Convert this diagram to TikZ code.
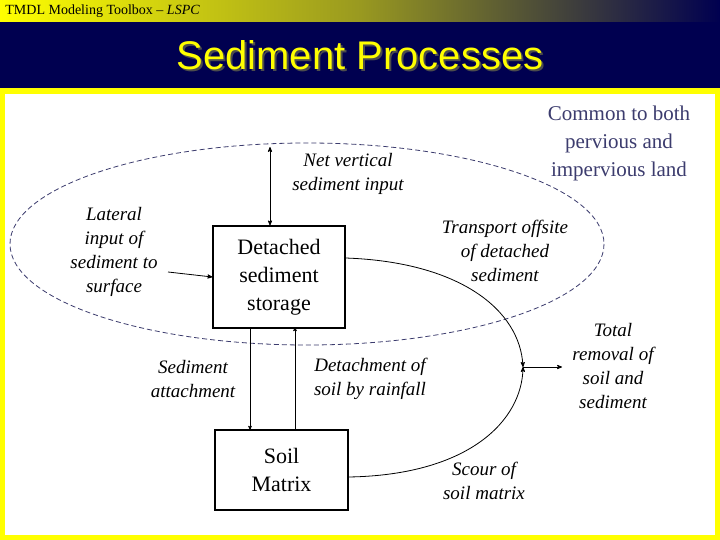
\documentclass[tikz,border=0pt]{standalone}
\usepackage{fontspec}
\setmainfont{Liberation Serif}
\newfontfamily\titlefont{Liberation Sans}
\usetikzlibrary{arrows,positioning,shadings}
\definecolor{navy}{RGB}{0,0,80}
\definecolor{ellcol}{RGB}{60,60,110}
\definecolor{framey}{RGB}{255,255,0}

\begin{document}
\begin{tikzpicture}[x=1pt,y=-1pt,>=stealth',thick,
                    every node/.style={font=\fontsize{19}{24}\selectfont\itshape,align=center,inner sep=1pt}]
  \tikzset{box/.style={draw,very thick,font=\fontsize{22}{28}\selectfont,inner sep=0pt}}
  \useasboundingbox (0,0) rectangle (720,540);

  % header
  \fill[navy] (0,0) rectangle (720,88);
  \shade[left color=framey,right color=navy,middle color=framey!60!navy] (0,0) rectangle (720,22);
  \node[anchor=west,font=\fontsize{14}{16}\selectfont] (tb) at (4,11) {\upshape TMDL Modeling Toolbox -- \textit{LSPC}};
  \node[text=black!70,font=\titlefont\fontsize{40}{44}\selectfont\upshape] at (362,57) {Sediment Processes};
  \node[text=framey,font=\titlefont\fontsize{40}{44}\selectfont\upshape] (title) at (360,55) {Sediment Processes};
  \fill[framey] (0,88) rectangle (720,540);
  \fill[white] (5,94) rectangle (715,535);

  % common area
  \draw[ellcol,dashed,thick,dash pattern=on 5pt off 3pt] (307,244) ellipse (297 and 101);
  \node[text=ellcol,font=\fontsize{21}{28}\selectfont\upshape] (common) at (619,143) {Common to both\\pervious and\\impervious land};

  % stores
  \node[box,minimum width=132,minimum height=102] (store) at (279,277) {Detached\\sediment\\storage};
  \node[box,minimum width=133,minimum height=80] (soil) at (281.5,470) {Soil\\Matrix};

  \coordinate (top) at (270,147);
  \coordinate (junc) at (523,367);
  \coordinate (out) at (562,367);
  \node (lat) at (114,252) {Lateral\\input of\\sediment to\\surface};
  \node (netv) at (348,174) {Net vertical\\sediment input};
  \node (trans) at (505,251) {Transport offsite\\of detached\\sediment};
  \node (attach) at (193,379) {Sediment\\attachment};
  \node (detach) at (370,379) {Detachment of\\soil by rainfall};
  \node (scour) at (484,481) {Scour of\\soil matrix};
  \node (total) at (613,366) {Total\\removal of\\soil and\\sediment};

  \draw[->] (168,272) -- (store.west);
  \draw[<->] (top) -- (top |- store.north);
  \draw[->,semithick] (250,327) -- (250,430);
  \draw[->,semithick] (295,430) -- (295,327);
  \draw[->] (store.east |- 0,258) .. controls (460,262) and (520,310) .. (junc);
  \draw[->] (soil.east |- 0,477) .. controls (470,475) and (522,420) .. (junc);
  \draw[->] (junc) -- (out);
\end{tikzpicture}
\end{document}
